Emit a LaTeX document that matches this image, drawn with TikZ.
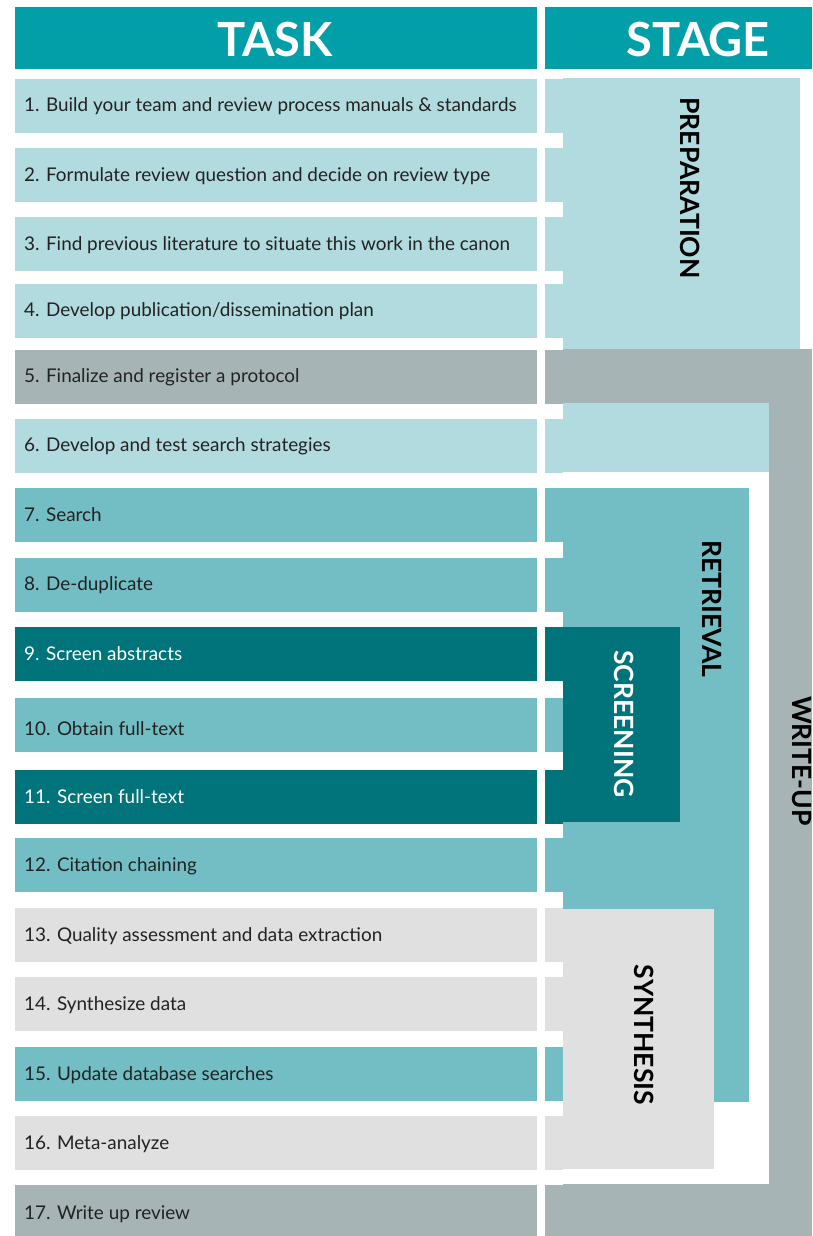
\documentclass[tikz,border=0pt]{standalone}
\usepackage{fontspec}
\setmainfont{Lato}
\definecolor{hdr}{HTML}{039FA9}
\definecolor{ltteal}{HTML}{B2DBDF}
\definecolor{wgray}{HTML}{A7B4B5}
\definecolor{midteal}{HTML}{73BEC4}
\definecolor{dkteal}{HTML}{00747A}
\definecolor{ltgray}{HTML}{E0E0E0}
\definecolor{txt}{HTML}{222222}
\tikzset{
  tasktext/.style={anchor=west, inner sep=0pt, text=txt, font=\fontsize{18.9}{21}\selectfont},
  hdrtext/.style={text=white, font=\fontsize{47}{50}\selectfont\bfseries, inner sep=0pt},
  stagelabel/.style={rotate=-90, inner sep=0pt, text=black, font=\fontsize{26.5}{28}\selectfont\bfseries}
}
\begin{document}
\begin{tikzpicture}[x=1pt,y=-1pt]
\useasboundingbox (0,0) rectangle (812,1236);
\fill[white] (0,0) rectangle (812,1236);
% headers
\fill[hdr] (15,7) rectangle (537,69);
\fill[hdr] (545,7) rectangle (812,69);
\node[hdrtext] (task) at (275,40) {TASK};
\node[hdrtext] (stage) at (698,40) {STAGE};
% stage boxes
\fill[ltteal] (545,78) rectangle (800,349);
\fill[wgray] (545,349) rectangle (812,403);
\fill[wgray] (769,349) rectangle (812,1236);
\fill[wgray] (545,1184) rectangle (812,1236);
\fill[ltteal] (545,403) rectangle (769,472);
\fill[midteal] (545,488) rectangle (749,1102);
\fill[dkteal] (545,627) rectangle (680,822);
\fill[ltgray] (545,909) rectangle (714,1169);
% white under the bars' stage-side ends (gaps between rows)
\fill[white] (537,69) rectangle (563,1236);
% task bars
\foreach \t/\c in {79/ltteal,148/ltteal,217/ltteal,284/ltteal,350/wgray,419/ltteal,488/midteal,558/midteal,627/dkteal,698/midteal,770/dkteal,838/midteal,908/ltgray,977/ltgray,1047/midteal,1116/ltgray}
  \fill[\c] (15,\t) rectangle (563,\t+54);
\fill[wgray] (15,1185) rectangle (563,1236);
% column separator
\fill[white] (537,69) rectangle (545,1236);
% task texts
\node[tasktext] (t1) at (24,106) {1. Build your team and review process manuals \& standards};
\node[tasktext] (t2) at (24,176) {2. Formulate review question and decide on review type};
\node[tasktext] (t3) at (24,245) {3. Find previous literature to situate this work in the canon};
\node[tasktext] (t4) at (24,311) {4. Develop publication/dissemination plan};
\node[tasktext] (t5) at (24,377) {5. Finalize and register a protocol};
\node[tasktext] (t6) at (24,446) {6. Develop and test search strategies};
\node[tasktext] (t7) at (24,515) {7. Search};
\node[tasktext] (t8) at (24,585) {8. De-duplicate};
\node[tasktext, text=white] (t9) at (24,654) {9. Screen abstracts};
\node[tasktext] (t10) at (24,729) {10. Obtain full-text};
\node[tasktext, text=white] (t11) at (24,797) {11. Screen full-text};
\node[tasktext] (t12) at (24,866) {12. Citation chaining};
\node[tasktext] (t13) at (24,936) {13. Quality assessment and data extraction};
\node[tasktext] (t14) at (24,1005) {14. Synthesize data};
\node[tasktext] (t15) at (24,1075) {15. Update database searches};
\node[tasktext] (t16) at (24,1144) {16. Meta-analyze};
\node[tasktext] (t17) at (24,1214) {17. Write up review};
% stage labels
\node[stagelabel] (prep) at (690,188) {PREPARATION};
\node[stagelabel] (retr) at (712,609) {RETRIEVAL};
\node[stagelabel, text=white] (scr) at (624,724) {SCREENING};
\node[stagelabel] (syn) at (644,1035) {SYNTHESIS};
\node[stagelabel] (wu) at (802,761) {WRITE-UP};
\end{tikzpicture}
\end{document}
